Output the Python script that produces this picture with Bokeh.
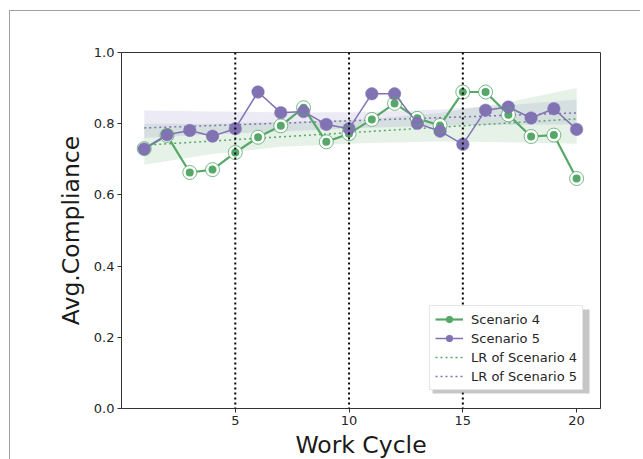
import numpy as np
from bokeh.plotting import figure
from bokeh.models import (ColumnDataSource, Range1d, FixedTicker, NumeralTickFormatter,
                          Legend, LegendItem, Span, BoxAnnotation)
from bokeh.embed import file_html
from bokeh.resources import INLINE

# ---- data ----
cycles = list(range(1, 21))
scenario4 = [0.730, 0.767, 0.663, 0.671, 0.719, 0.762, 0.794, 0.845, 0.749, 0.772,
             0.812, 0.857, 0.815, 0.795, 0.889, 0.889, 0.825, 0.764, 0.768, 0.646]
scenario5 = [0.729, 0.769, 0.781, 0.765, 0.786, 0.889, 0.831, 0.834, 0.798, 0.786,
             0.884, 0.884, 0.801, 0.779, 0.742, 0.838, 0.847, 0.816, 0.842, 0.784]
# confidence bands of the regressions
band_x = [1, 4, 7, 10.5, 14, 17, 20]
band4_lower = [0.685, 0.715, 0.735, 0.745, 0.750, 0.748, 0.744]
band4_upper = [0.800, 0.800, 0.805, 0.812, 0.830, 0.860, 0.900]
band5_lower = [0.760, 0.770, 0.778, 0.788, 0.795, 0.797, 0.798]
band5_upper = [0.837, 0.834, 0.832, 0.832, 0.840, 0.852, 0.868]
cycle_marks = [5, 10, 15]
x_ticks = [5, 10, 15, 20]
y_ticks = [0.0, 0.2, 0.4, 0.6, 0.8, 1.0]

GREEN = "#55a868"
PURPLE = "#8172b3"
FONT = "DejaVu Sans"

x = np.array(cycles, dtype=float)
fit4 = np.polyfit(x, np.array(scenario4), 1)
fit5 = np.polyfit(x, np.array(scenario5), 1)
lr_x = [cycles[0], cycles[-1]]
lr4 = list(np.polyval(fit4, lr_x))
lr5 = list(np.polyval(fit5, lr_x))

p = figure(frame_width=479, frame_height=356, output_backend="svg", toolbar_location=None,
           x_range=Range1d(0.0, 21.05), y_range=Range1d(0.0, 1.0),
           min_border_left=111, min_border_top=41, min_border_right=40, min_border_bottom=46)
p.styles = {"border-top": "1px solid #a0a0a0", "border-left": "1px solid #a0a0a0",
            "margin-left": "9px", "margin-top": "10px"}
p.grid.visible = False
p.outline_line_color = "#333333"
p.outline_line_width = 1
p.background_fill_color = "white"
p.border_fill_color = "white"

for ax in (p.xaxis[0], p.yaxis[0]):
    ax.axis_line_color = "#333333"
    ax.major_tick_line_color = "#333333"
    ax.major_tick_out = 4
    ax.major_tick_in = 0
    ax.minor_tick_line_color = None
    ax.major_label_text_font = FONT
    ax.major_label_text_font_size = "13px"
    ax.major_label_text_color = "#262626"
    ax.axis_label_text_font = FONT
    ax.axis_label_text_font_size = "23.5px"
    ax.axis_label_text_font_style = "normal"
    ax.axis_label_text_color = "#1a1a1a"
    ax.major_label_standoff = 3
p.xaxis[0].ticker = FixedTicker(ticks=x_ticks)
p.yaxis[0].ticker = FixedTicker(ticks=y_ticks)
p.yaxis[0].formatter = NumeralTickFormatter(format="0.0")
p.xaxis[0].axis_label = "Work Cycle"
p.yaxis[0].axis_label = "Avg.Compliance"
p.xaxis[0].axis_label_standoff = 3
p.yaxis[0].axis_label_standoff = 6

# bands
p.varea(x=band_x, y1=band4_lower, y2=band4_upper, fill_color=GREEN, fill_alpha=0.15)
p.varea(x=band_x, y1=band5_lower, y2=band5_upper, fill_color=PURPLE, fill_alpha=0.15)

# vertical markers
for c in cycle_marks:
    p.add_layout(Span(location=c, dimension="height", line_color="black",
                      line_width=2, line_dash="2 3"))

src = ColumnDataSource(dict(x=cycles, s4=scenario4, s5=scenario5))

# regression lines
lr4_r = p.line(lr_x, lr4, line_color=GREEN, line_width=1.5, line_dash="2 3")
lr5_r = p.line(lr_x, lr5, line_color=PURPLE, line_width=1.5, line_dash="2 3")

# scenario 4
l4 = p.line("x", "s4", source=src, line_color=GREEN, line_width=2.2)
m4 = p.scatter("x", "s4", source=src, size=5, fill_color=GREEN, line_color=GREEN)
p.scatter("x", "s4", source=src, size=11, fill_color=GREEN, line_color="white", line_width=3)
# scenario 5
l5 = p.line("x", "s5", source=src, line_color=PURPLE, line_width=1.5)
m5 = p.scatter("x", "s5", source=src, size=5, fill_color=PURPLE, line_color=PURPLE)
p.scatter("x", "s5", source=src, size=12.5, fill_color=PURPLE, line_color=PURPLE, line_width=0.5)
# rings
p.scatter("x", "s4", source=src, size=14, fill_color=None, line_color=GREEN,
          line_width=1, line_alpha=0.8)

# legend drop shadow (frame-relative screen units, y upward)
shadow = BoxAnnotation(left=311, right=468, bottom=15, top=99,
                       left_units="screen", right_units="screen",
                       top_units="screen", bottom_units="screen",
                       fill_color="#808080", fill_alpha=0.45, line_color=None)
p.add_layout(shadow)

legend = Legend(items=[
    LegendItem(label="Scenario 4", renderers=[l4, m4]),
    LegendItem(label="Scenario 5", renderers=[l5, m5]),
    LegendItem(label="LR of Scenario 4", renderers=[lr4_r]),
    LegendItem(label="LR of Scenario 5", renderers=[lr5_r]),
], location=(308, 18))
legend.label_text_font = FONT
legend.label_text_font_size = "13px"
legend.label_text_color = "#262626"
legend.glyph_width = 28
legend.glyph_height = 16
legend.label_height = 16
legend.label_standoff = 8
legend.spacing = 3
legend.padding = 5
legend.margin = 0
legend.border_line_color = "#cccccc"
legend.border_line_width = 1
legend.background_fill_color = "white"
legend.background_fill_alpha = 1.0
p.add_layout(legend)

open("out.html", "w").write(file_html(p, INLINE))
